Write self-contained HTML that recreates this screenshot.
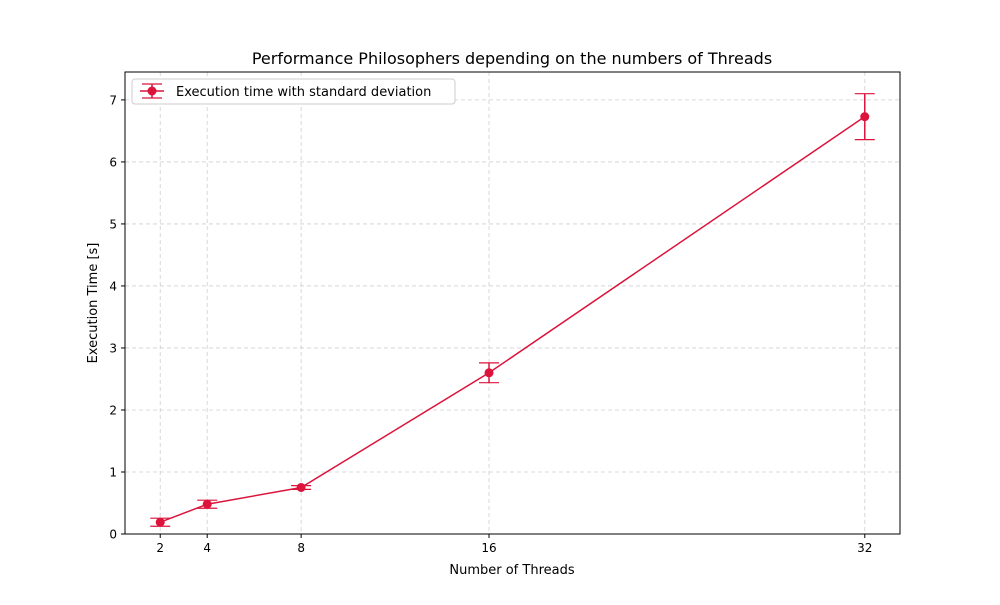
<!DOCTYPE html>
<html><head><meta charset="utf-8">
<style>
body{margin:0;background:#fff;}
svg text{font-family:"DejaVu Sans","Liberation Sans",sans-serif;fill:#000;}
</style></head>
<body>
<svg id="chart" width="1000" height="600" xmlns="http://www.w3.org/2000/svg">
<rect x="0" y="0" width="1000" height="600" fill="#fff"/>
<g id="grid"></g>
<g id="series"></g>
<rect x="125" y="72" width="775" height="462" fill="none" stroke="#000" stroke-width="1"/>
<g id="ticks"></g>
<text x="512" y="64" font-size="16" text-anchor="middle">Performance Philosophers depending on the numbers of Threads</text>
<text x="512" y="574" font-size="13" text-anchor="middle">Number of Threads</text>
<text x="97" y="303" font-size="13" text-anchor="middle" transform="rotate(-90 97 303)">Execution Time [s]</text>
<g>
<rect x="132" y="79" width="323" height="25" rx="3" fill="#fff" stroke="#ccc"/>
<line x1="140" y1="91" x2="164" y2="91" stroke="#dc143c" stroke-width="1.5"/>
<line x1="152" y1="84" x2="152" y2="98" stroke="#dc143c" stroke-width="1.5"/>
<line x1="142" y1="84" x2="162" y2="84" stroke="#dc143c" stroke-width="1.2"/>
<line x1="142" y1="98" x2="162" y2="98" stroke="#dc143c" stroke-width="1.2"/>
<circle cx="152" cy="91" r="4.5" fill="#dc143c"/>
<text x="176" y="96" font-size="13">Execution time with standard deviation</text>
</g>
</svg>
<script>
const threads=[2,4,8,16,32];
const times=[0.19,0.48,0.75,2.6,6.73];
const stds=[0.065,0.065,0.03,0.16,0.37];
const xTicks=[2,4,8,16,32];
const yTicks=[0,1,2,3,4,5,6,7];
const NS="http://www.w3.org/2000/svg";
const L=125,R=900,T=72,B=534,xmin=0.5,xmax=33.5,ymin=0,ymax=7.45;
const sx=v=>L+(v-xmin)/(xmax-xmin)*(R-L);
const sy=v=>B-(v-ymin)/(ymax-ymin)*(B-T);
function mk(tag,attrs,parent){const e=document.createElementNS(NS,tag);for(const k in attrs)e.setAttribute(k,attrs[k]);parent.appendChild(e);return e;}
const grid=document.getElementById('grid'),ticks=document.getElementById('ticks'),series=document.getElementById('series');
xTicks.forEach(t=>{const x=sx(t);
const g=mk('line',{x1:x,x2:x,y1:T,y2:B,stroke:'#b0b0b0','stroke-width':0.8,'stroke-dasharray':'4,3',opacity:0.6},grid);


mk('line',{x1:x,x2:x,y1:B,y2:B+4,stroke:'#000'},ticks);
const tx=mk('text',{x:x,y:B+18,'font-size':12,'text-anchor':'middle'},ticks);tx.textContent=t;

});
yTicks.forEach(t=>{const y=sy(t);
const g=mk('line',{x1:L,x2:R,y1:y,y2:y,stroke:'#b0b0b0','stroke-width':0.8,'stroke-dasharray':'4,3',opacity:0.6},grid);


mk('line',{x1:L-4,x2:L,y1:y,y2:y,stroke:'#000'},ticks);
const tx=mk('text',{x:L-8,y:y+4.5,'font-size':12,'text-anchor':'end'},ticks);tx.textContent=t;

});
const pts=threads.map((t,i)=>sx(t)+','+sy(times[i])).join(' ');
const pl=mk('polyline',{points:pts,fill:'none',stroke:'#dc143c','stroke-width':1.5},series);


threads.forEach((t,i)=>{const x=sx(t),y1=sy(times[i]-stds[i]),y2=sy(times[i]+stds[i]);
const g=mk('g',{},series);


mk('line',{x1:x,x2:x,y1:y1,y2:y2,stroke:'#dc143c','stroke-width':1.5},g);
mk('line',{x1:x-10,x2:x+10,y1:y1,y2:y1,stroke:'#dc143c','stroke-width':1.2},g);
mk('line',{x1:x-10,x2:x+10,y1:y2,y2:y2,stroke:'#dc143c','stroke-width':1.2},g);
mk('circle',{cx:x,cy:sy(times[i]),r:4.5,fill:'#dc143c'},g);});
</script>
</body></html>
